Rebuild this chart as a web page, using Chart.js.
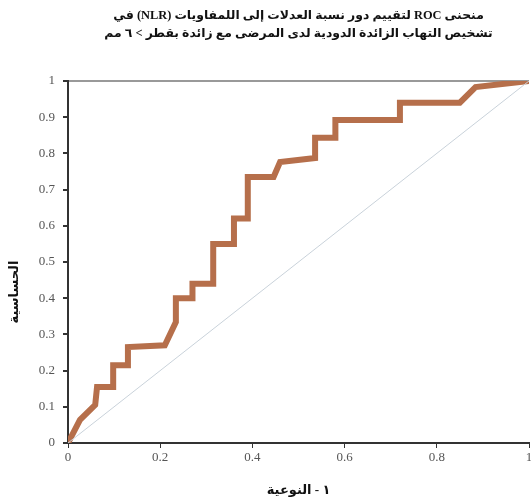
<!DOCTYPE html>
<html><head><meta charset="utf-8">
<script src="https://cdn.jsdelivr.net/npm/chart.js@4"></script>
<style>html,body{margin:0;padding:0;background:#fff}#w{width:531px;height:504px}</style>
</head><body><div id="w"><canvas id="c" dir="rtl"></canvas></div>
<script>
const titleLines = ["منحنى ROC لتقييم دور نسبة العدلات إلى اللمفاويات (NLR) في", "تشخيص التهاب الزائدة الدودية لدى المرضى مع زائدة بقطر > ٦ مم"];
const xTitle = "١ - النوعية";
const yTitle = "الحساسية";
const fpr = [0, 0.026, 0.059, 0.063, 0.098, 0.098, 0.13, 0.13, 0.21, 0.234, 0.234, 0.27, 0.27, 0.315, 0.315, 0.36, 0.36, 0.39, 0.39, 0.446, 0.46, 0.536, 0.536, 0.58, 0.58, 0.72, 0.72, 0.85, 0.884, 1];
const tpr = [0, 0.064, 0.105, 0.155, 0.155, 0.215, 0.215, 0.265, 0.27, 0.334, 0.40, 0.40, 0.44, 0.44, 0.55, 0.55, 0.62, 0.62, 0.735, 0.735, 0.776, 0.787, 0.843, 0.843, 0.892, 0.892, 0.94, 0.94, 0.983, 1];
const refX = [0, 1];
const refY = [0, 1];

const serif = "'Liberation Serif', 'DejaVu Sans', serif";

const yTitlePlugin = {
  id: 'yTitle',
  afterDraw(chart) {
    const ctx = chart.ctx, a = chart.chartArea;
    ctx.save();
    ctx.font = "bold 13px " + serif;
    ctx.fillStyle = '#111';
    ctx.direction = 'rtl';
    ctx.textAlign = 'center';
    ctx.textBaseline = 'middle';
    ctx.translate(15, (a.top + a.bottom) / 2 + 30);
    ctx.rotate(-Math.PI / 2);
    ctx.fillText(yTitle, 0, 0);
    ctx.restore();
  }
};

new Chart(document.getElementById('c'), {
  type: 'scatter',
  data: {
    datasets: [
      { data: refX.map((x,i)=>({x, y: refY[i]})), showLine: true, borderColor: '#c9d2da', borderWidth: 1, pointRadius: 0 },
      { data: fpr.map((x,i)=>({x, y: tpr[i]})), showLine: true, borderColor: '#b66f4b', borderWidth: 6, pointRadius: 0, borderJoinStyle: 'miter' }
    ]
  },
  plugins: [yTitlePlugin],
  options: {
    responsive: true, maintainAspectRatio: false, animation: false,
    layout: { padding: { left: 0, right: 2, top: 0, bottom: 0 } },
    plugins: {
      legend: { display: false }, tooltip: { enabled: false },
      title: { display: true, fullSize: false, text: titleLines, color: '#111',
        font: { family: serif, size: 12.4, weight: 'bold', lineHeight: 1.45 },
        padding: { top: 7, bottom: 38 } }
    },
    scales: {
      x: { type: 'linear', min: 0, max: 1,
        ticks: { stepSize: 0.2, color: '#555', font: { family: serif, size: 13 }, padding: 2,
          callback: v => String(Math.round(v*10)/10) },
        grid: { drawOnChartArea: false, tickLength: 5, tickColor: '#333' },
        border: { color: '#333', width: 2 },
        title: { display: true, text: xTitle, color: '#111', font: { family: serif, size: 13, weight: 'bold' }, padding: { top: 4, bottom: 6 } },
        afterFit: s => { s.height = 61; s.paddingLeft = 0; s.paddingRight = 0; }
      },
      y: { type: 'linear', min: 0, max: 1,
        ticks: { stepSize: 0.1, color: '#555', font: { family: serif, size: 13 }, padding: 8,
          callback: v => String(Math.round(v*10)/10) },
        grid: { tickLength: 5, tickColor: '#333', color: c => c.tick.value === 1 ? '#999' : 'rgba(0,0,0,0)', lineWidth: 2 },
        border: { color: '#333', width: 2 },
        title: { display: false },
        afterFit: s => { s.width = 68; s.paddingTop = 0; s.paddingBottom = 0; }
      }
    }
  }
});
</script></body></html>
